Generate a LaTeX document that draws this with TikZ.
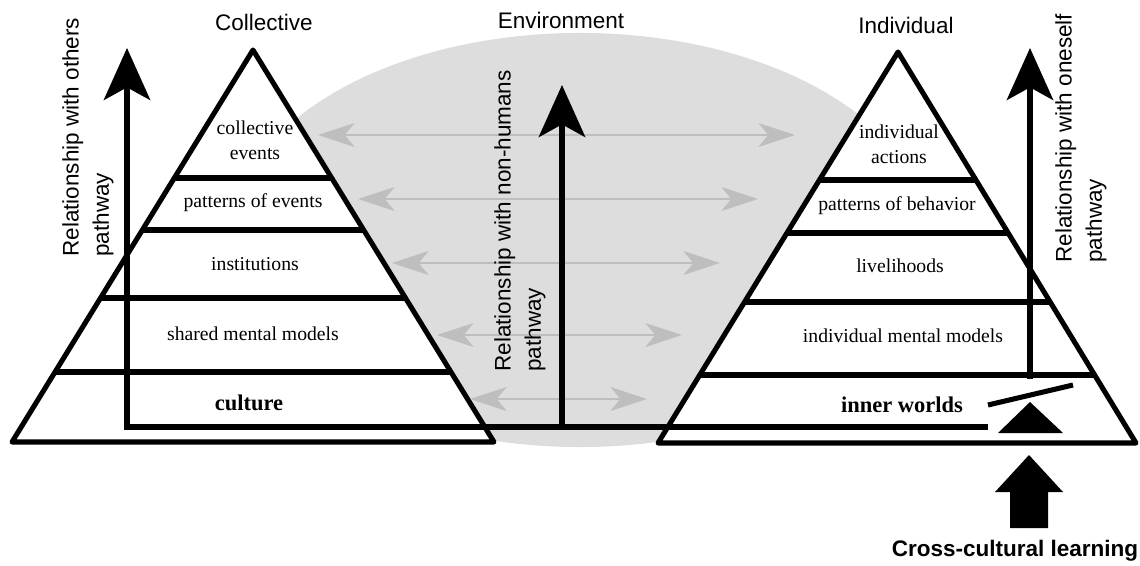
\documentclass[tikz,border=0pt]{standalone}
\usepackage{fontspec}
\setmainfont{Liberation Serif}
\setsansfont{Liberation Sans}
\usetikzlibrary{arrows.meta}

\definecolor{envgray}{RGB}{221,221,221}
\definecolor{linkgray}{RGB}{190,190,190}

\begin{document}
\begin{tikzpicture}[x=0.025cm, y=-0.025cm, every node/.style={inner sep=0pt}]
  % Styles
  \tikzset{
    pyramid/.style = {draw, line width=3.6pt, line join=round, fill=white},
    layerline/.style = {line width=3.6pt},
    layer/.style = {font=\fontsize{14}{17.5}\selectfont, align=center},
    base/.style = {font=\fontsize{16}{19}\selectfont\bfseries},
    heading/.style = {font=\sffamily\fontsize{16}{19}\selectfont},
    pathlabel/.style = {font=\sffamily\fontsize{16}{21.5}\selectfont, rotate=90, anchor=west, align=left},
    pathway/.style = {line width=3.6pt, -{Stealth[length=37pt, width=33pt, inset=9pt]}},
    link/.style = {draw=linkgray, line width=1.3pt, {Stealth[length=26pt, width=17pt, inset=7pt]}-{Stealth[length=26pt, width=17pt, inset=7pt]}}
  }
  \useasboundingbox (0,0) rectangle (1140,566);

  % Environment
  \fill[envgray] (580,240) ellipse [x radius=8.75cm, y radius=5.175cm];

  % Pyramid corners
  \coordinate (CollTop) at (253,50);
  \coordinate (CollLeft) at (12,442);
  \coordinate (CollRight) at (494,442);
  \coordinate (IndTop) at (898,52);
  \coordinate (IndLeft) at (658,443);
  \coordinate (IndRight) at (1136,443);

  % Pyramids
  \draw[pyramid] (CollTop) -- (CollLeft) -- (CollRight) -- cycle;
  \draw[pyramid] (IndTop) -- (IndLeft) -- (IndRight) -- cycle;

  % Layers
  \begin{scope}
    \clip (CollTop) -- (CollLeft) -- (CollRight) -- cycle;
    \foreach \y in {178,230,298,372}
      \draw[layerline] (0,\y) -- (600,\y);
  \end{scope}
  \begin{scope}
    \clip (IndTop) -- (IndLeft) -- (IndRight) -- cycle;
    \foreach \y in {180,233,302,375}
      \draw[layerline] (600,\y) -- (1140,\y);
  \end{scope}

  % Environment links
  \foreach \n/\y/\a/\b in {1/135/318/795, 2/199/358/758, 3/263/392/720, 4/335/437/682, 5/399/470/647} {
    \coordinate (GapL\n) at (\a,\y);
    \coordinate (GapR\n) at (\b,\y);
    \draw[link] (GapL\n) -- (GapR\n);
  }

  % Pathways
  \coordinate (InnerEnd) at (988,427);
  \coordinate (OthersFoot) at (127,427);
  \coordinate (OthersTip) at (127,48);
  \coordinate (NonHumFoot) at (562,427);
  \coordinate (NonHumTip) at (562,85);
  \coordinate (SelfFoot) at (1030,379);
  \coordinate (SelfTip) at (1030,48);
  \draw[pathway] (InnerEnd) -- (OthersFoot) -- (OthersTip);
  \draw[pathway] (NonHumFoot) -- (NonHumTip);
  \draw[pathway] (SelfFoot) -- (SelfTip);

  % Seesaw
  \coordinate (BeamL) at (988,405);
  \coordinate (BeamR) at (1073,385);
  \draw[layerline] (BeamL) -- (BeamR);
  \fill (998,433) -- (1063,433) -- (1030,402) -- cycle;

  % Cross-cultural learning
  \fill (1010,528) -- (1010,492) -- (995,492) -- (1029,455) -- (1063,492) -- (1048,492) -- (1048,528) -- cycle;
  \node[heading, font=\sffamily\bfseries\fontsize{16}{19}\selectfont] (Learning) at (1015,551) {Cross-cultural learning};

  % Headings
  \node[heading] (Collective) at (264,22) {Collective};
  \node[heading] (Environment) at (561,20) {Environment};
  \node[heading] (Individual) at (906,25) {Individual};

  % Pathway labels
  \node[pathlabel] (OthersLabel) at (88,257) {Relationship with others\\pathway};
  \node[pathlabel] (NonHumLabel) at (520,372) {Relationship with non-humans\\pathway};
  \node[pathlabel] (SelfLabel) at (1081,263) {Relationship with oneself\\pathway};

  % Collective layers
  \node[layer] (CollEvents) at (255,140) {collective\\events};
  \node[layer] (PatEvents) at (253,203) {patterns of events};
  \node[layer] (Institutions) at (255,264) {institutions};
  \node[layer] (SharedModels) at (253,334) {shared mental models};
  \node[base] (Culture) at (249,403) {culture};

  % Individual layers
  \node[layer] (IndActions) at (899,144) {individual\\actions};
  \node[layer] (PatBehavior) at (897,206) {patterns of behavior};
  \node[layer] (Livelihoods) at (900,266) {livelihoods};
  \node[layer] (IndModels) at (903,336) {individual mental models};
  \node[base] (InnerWorlds) at (902,405) {inner worlds};

\end{tikzpicture}
\end{document}
